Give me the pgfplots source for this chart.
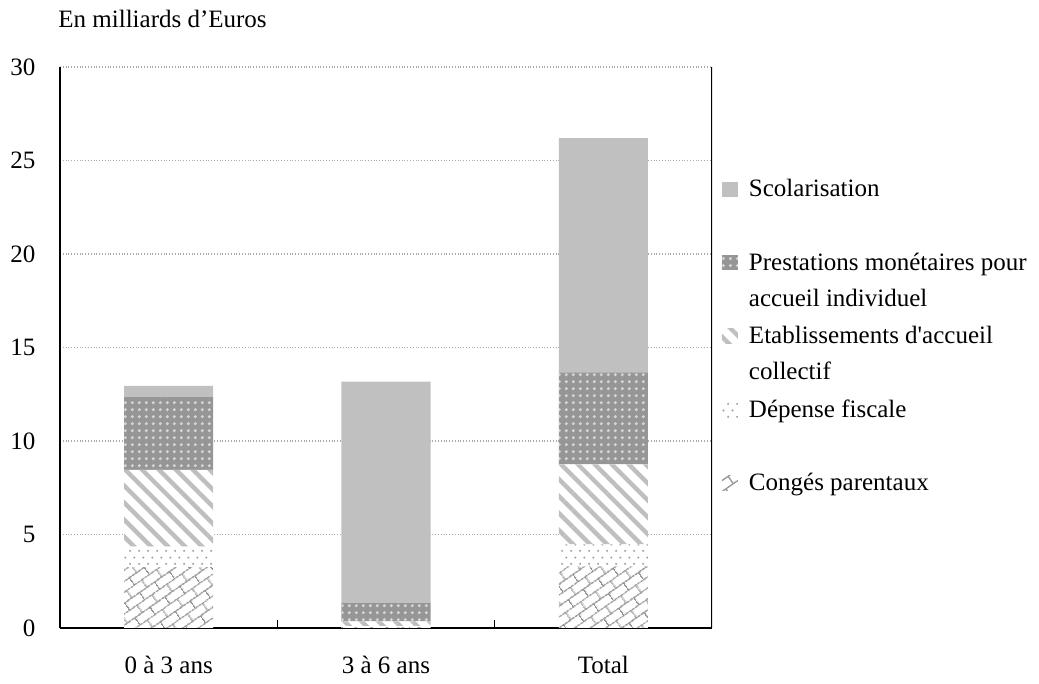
\documentclass[border=0pt]{standalone}
\usepackage{pgfplots}
\pgfplotsset{compat=1.18}
\usepackage{fontspec}
\setmainfont{Liberation Serif}
\usetikzlibrary{patterns.meta}
\definecolor{scol}{RGB}{192,192,192}
\definecolor{prestbase}{RGB}{150,150,150}
\definecolor{prestdot}{RGB}{212,212,212}
\definecolor{etab}{RGB}{191,191,191}
\definecolor{fisc}{RGB}{160,160,160}
\definecolor{brick}{RGB}{150,150,150}
\definecolor{gridc}{RGB}{170,170,170}

\tikzdeclarepattern{
  name=diagbricks,
  type=uncolored,
  bounding box={(0,0) and (9pt,9pt)},
  tile size={(9pt,9pt)},
  tile transformation={rotate=35},
  code={
    \draw[line width=0.65pt] (0,2.25pt) -- (9pt,2.25pt);
    \draw[line width=0.65pt] (0,6.75pt) -- (9pt,6.75pt);
    \draw[line width=0.65pt] (2.25pt,2.25pt) -- (2.25pt,6.75pt);
    \draw[line width=0.65pt] (6.75pt,6.75pt) -- (6.75pt,9pt);
    \draw[line width=0.65pt] (6.75pt,0pt) -- (6.75pt,2.25pt);
  }
}
\tikzdeclarepattern{
  name=stagdots,
  type=uncolored,
  bounding box={(0,0) and (4.6pt,6.6pt)},
  tile size={(4.6pt,6.6pt)},
  code={
    \fill (1.15pt,1.65pt) circle (0.6pt);
    \fill (3.45pt,4.95pt) circle (0.6pt);
  }
}
\tikzdeclarepattern{
  name=griddots,
  type=uncolored,
  bounding box={(0,0) and (3.4pt,3.4pt)},
  tile size={(3.4pt,3.4pt)},
  code={
    \fill (1.7pt,1.7pt) circle (0.85pt);
  }
}

\begin{document}
\fontsize{12.5}{18}\selectfont
\begin{tikzpicture}
\useasboundingbox (0,0) rectangle (519.5pt,342pt);
\begin{axis}[
  at={(30pt,28pt)}, anchor=south west,
  scale only axis, width=326pt, height=280.5pt,
  ybar stacked, bar width=0.41,
  xmin=-0.5, xmax=2.5, ymin=0, ymax=30,
  xtick={0,1,2}, xticklabels={0 à 3 ans, 3 à 6 ans, Total},
  minor xtick={0.5,1.5},
  ytick={0,5,10,15,20,25,30},
  axis x line*=bottom, axis y line*=left,
  axis line style={line width=0.75pt, -},
  major tick length=0pt, minor tick length=4pt, tick align=inside,
  minor tick style={black, line width=0.6pt},
  ymajorgrids,
  major grid style={densely dotted, gridc, line width=0.6pt},
  /pgf/number format/assume math mode=true,
  tick label style={font=\fontsize{12.5}{15}\selectfont},
  yticklabel style={xshift=-8pt},
  xticklabel style={yshift=-9.5pt},
  legend style={at={(axis description cs:1.0153,0.8132)}, anchor=north west,
    draw=none, fill=none, inner sep=0pt, outer sep=0pt,
    row sep=0pt, column sep=0pt,
    font=\fontsize{12.5}{18}\selectfont,
    cells={anchor=base west},
    nodes={inner sep=0pt, anchor=base west, text height=12.6pt, text depth=24.1pt},
    /tikz/every odd column/.append style={column sep=5.5pt}},
  legend image code/.code={\path[#1, draw=none] (0pt,0pt) rectangle (8pt,7.5pt);},
  reverse legend,
]
\addplot[draw=none, fill=white, postaction={pattern=diagbricks, pattern color=brick}]
  coordinates {(0,3.25) (1,0.05) (2,3.3)};
\addlegendentry{\parbox[t]{150pt}{\strut Congés parentaux}}
\addplot[draw=none, fill=white, postaction={pattern=stagdots, pattern color=fisc}]
  coordinates {(0,1.1) (1,0.05) (2,1.17)};
\addlegendentry{\parbox[t]{150pt}{\strut Dépense fiscale}}
\addplot[draw=none, fill=white, postaction={pattern={Lines[angle=-45, distance=6pt, line width=2.2pt]}, pattern color=etab}]
  coordinates {(0,4.1) (1,0.25) (2,4.28)};
\addlegendentry{\parbox[t]{150pt}{\strut Etablissements d\textquotesingle accueil\\collectif}}
\addplot[draw=none, fill=prestbase, postaction={pattern=griddots, pattern color=prestdot}]
  coordinates {(0,3.9) (1,1.0) (2,4.92)};
\addlegendentry{\parbox[t]{150pt}{\strut Prestations monétaires pour\\accueil individuel}}
\addplot[draw=none, fill=scol]
  coordinates {(0,0.6) (1,11.82) (2,12.52)};
\addlegendentry{\parbox[t]{150pt}{\strut Scolarisation}}
\draw[line width=0.75pt] (rel axis cs:1,0) -- (rel axis cs:1,1);
\end{axis}
\node[anchor=base west, inner sep=0pt] at (29pt,328pt) {En milliards d’Euros};
\end{tikzpicture}
\end{document}
